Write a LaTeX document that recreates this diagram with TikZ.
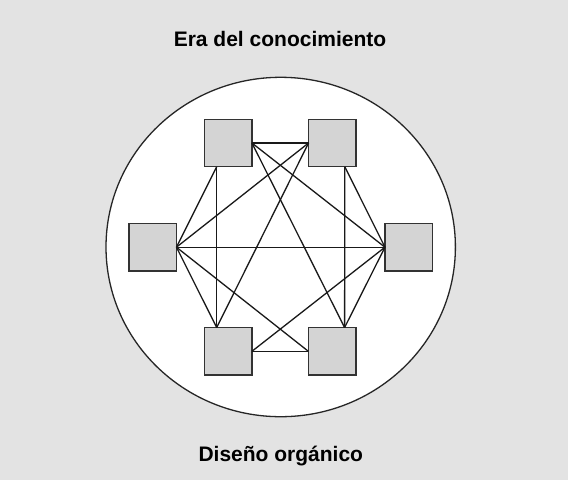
\documentclass[tikz,border=0pt]{standalone}
\usepackage{fontspec}
\setmainfont{Liberation Sans}
\definecolor{bg}{HTML}{E3E3E3}
\definecolor{boxfill}{HTML}{D4D4D4}
\begin{document}
\begin{tikzpicture}[x=1pt,y=-1pt,
  sq/.style={draw=black!80,fill=boxfill,line width=1.4pt,minimum size=47.5pt,inner sep=0pt,outer sep=0pt},
  link/.style={draw=black!90,line width=1.3pt},
  title/.style={font=\bfseries\fontsize{21}{24}\selectfont,anchor=base}]
\fill[bg] (0,0) rectangle (568,480);
\useasboundingbox (0,0) rectangle (568,480);
\draw[fill=white,line width=1.3pt,draw=black!85] (280.7,247) ellipse [x radius=174.7, y radius=169.7];
\node[sq] (tl) at (228.2,143) {};
\node[sq] (tr) at (332.3,143) {};
\node[sq] (l) at (152.7,247.2) {};
\node[sq] (r) at (408.7,247.2) {};
\node[sq] (bl) at (228.2,351.3) {};
\node[sq] (br) at (332.1,351.3) {};
\coordinate (tlb) at ([xshift=-11.5pt]tl.south);
\coordinate (trb) at ([xshift=12.5pt]tr.south);
\coordinate (blt) at ([xshift=-11.5pt]bl.north);
\coordinate (brt) at ([xshift=12.5pt]br.north);
\draw[link] (tl.east) -- (tr.west);
\draw[link] (tl.east) -- (r.west);
\draw[link] (tl.east) -- (brt);
\draw[link] (tlb) -- (blt);
\draw[link] (tlb) -- (l.east);
\draw[link] (tr.west) -- (l.east);
\draw[link] (tr.west) -- (blt);
\draw[link] (trb) -- (r.west);
\draw[link] (trb) -- (brt);
\draw[link] (l.east) -- (r.west);
\draw[link] (l.east) -- (blt);
\draw[link] (l.east) -- (br.west);
\draw[link] (r.west) -- (bl.east);
\draw[link] (r.west) -- (brt);
\draw[link] (bl.east) -- (br.west);
\node[title] (t1) at (280,46.5) {Era del conocimiento};
\node[title] (t2) at (280.8,461.3) {Diseño orgánico};
\end{tikzpicture}
\end{document}
